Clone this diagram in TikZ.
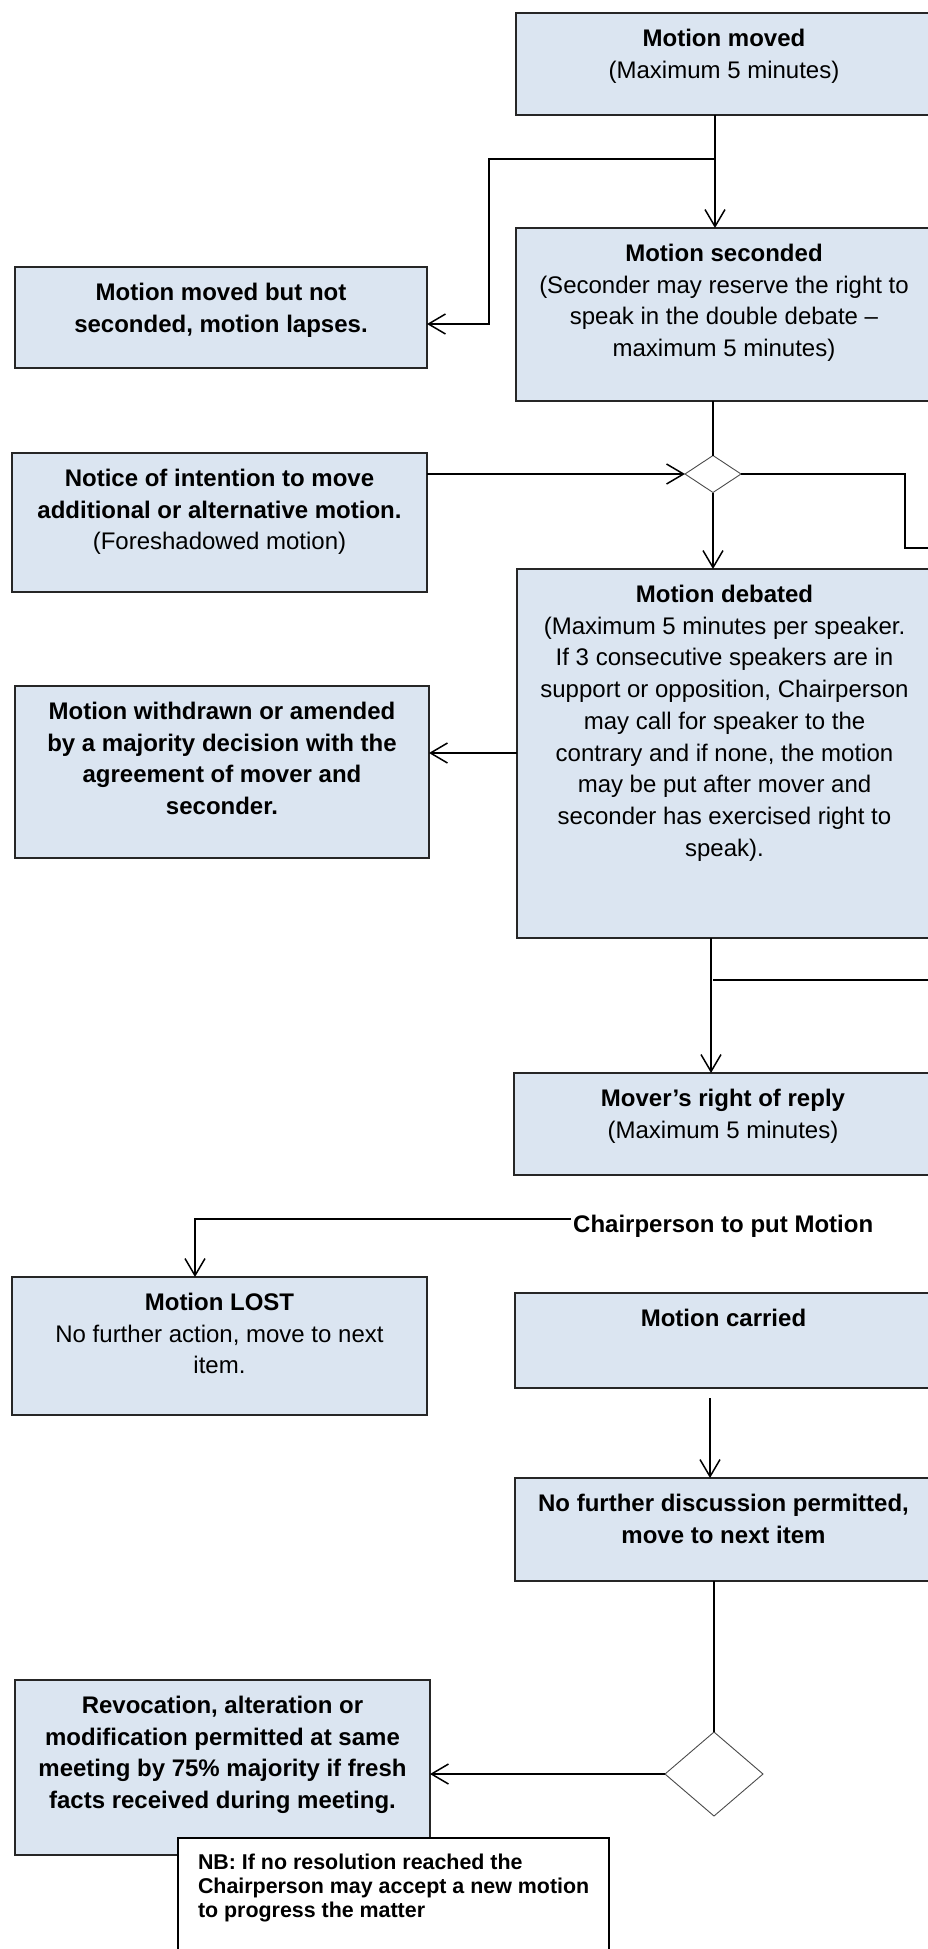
\documentclass[tikz,border=0pt]{standalone}
\usepackage{fontspec}
\setmainfont{Liberation Sans}
\usetikzlibrary{arrows.meta,shapes.geometric}
\definecolor{boxfill}{HTML}{DBE5F1}
\definecolor{boxline}{HTML}{262626}
\newcommand\bt[3]{\parbox[c][#2pt][t]{#1pt}{\centering\fontsize{24}{31.7}\selectfont\rule{0pt}{33.5pt}#3}}
\begin{document}
\begin{tikzpicture}[x=1pt,y=-1pt,
 box/.style={draw=boxline, line width=2pt, fill=boxfill, inner sep=0pt, outer sep=0pt, anchor=north west},
 nbbox/.style={draw=black, line width=2pt, fill=white, inner sep=0pt, outer sep=0pt, anchor=north west},
 conn/.style={line width=1.5pt, draw=black},
 arr/.style={conn, -{Straight Barb[length=17pt,width=20pt,line width=1.5pt]}},
 dec/.style={diamond, draw=black!70, line width=0.9pt, fill=white, inner sep=0pt, outer sep=0pt},
 lbl/.style={font=\bfseries\fontsize{24}{28}\selectfont, inner sep=2pt, anchor=west}
]
\useasboundingbox (0,0) rectangle (928,1949);
\clip (0,0) rectangle (928,1949);

% boxes
\node[box] (moved) at (516,13) {\bt{416}{102}{\textbf{Motion moved}\\(Maximum 5 minutes)}};
\node[box] (seconded) at (516,228) {\bt{416}{173}{\textbf{Motion seconded}\\(Seconder may reserve the right to\\speak in the double debate –\\maximum 5 minutes)}};
\node[box] (lapses) at (15,267) {\bt{412}{101}{\textbf{Motion moved but not}\\\textbf{seconded, motion lapses.}}};
\node[box] (notice) at (12,453) {\bt{415}{139}{\textbf{Notice of intention to move}\\\textbf{additional or alternative motion.}\\(Foreshadowed motion)}};
\node[box] (debated) at (517,569) {\bt{415}{369}{\textbf{Motion debated}\\(Maximum 5 minutes per speaker.\\If 3 consecutive speakers are in\\support or opposition, Chairperson\\may call for speaker to the\\contrary and if none, the motion\\may be put after mover and\\seconder has exercised right to\\speak).}};
\node[box] (withdrawn) at (15,686) {\bt{414}{172}{\textbf{Motion withdrawn or amended}\\\textbf{by a majority decision with the}\\\textbf{agreement of mover and}\\\textbf{seconder.}}};
\node[box] (reply) at (514,1073) {\bt{418}{102}{\textbf{Mover’s right of reply}\\(Maximum 5 minutes)}};
\node[box] (lost) at (12,1277) {\bt{415}{138}{\textbf{Motion LOST}\\No further action, move to next\\item.}};
\node[box] (carried) at (515,1293) {\bt{417}{95}{\textbf{Motion carried}}};
\node[box] (nofurther) at (515,1478) {\bt{417}{103}{\textbf{No further discussion permitted,}\\\textbf{move to next item}}};
\node[box] (revoc) at (15,1680) {\bt{415}{175}{\textbf{Revocation, alteration or}\\\textbf{modification permitted at same}\\\textbf{meeting by 75\% majority if fresh}\\\textbf{facts received during meeting.}}};
\node[nbbox] (nb) at (178,1838) {\parbox[c][125pt][t]{431pt}{\raggedright\leftskip=20pt\fontsize{21.4}{24}\selectfont\bfseries\rule{0pt}{31pt}NB: If no resolution reached the\\Chairperson may accept a new motion\\to progress the matter}};

\node[lbl] (chair) at (571,1226) {Chairperson to put Motion};

% decisions
\node[dec, minimum width=56pt, minimum height=37pt] (d1) at (713,474) {};
\node[dec, minimum width=98pt, minimum height=84pt] (d2) at (714,1774) {};

% helper coordinates
\coordinate (cA) at (715,0);
\coordinate (br1) at (715,159);
\coordinate (br2) at (489,324);
\coordinate (r1) at (905,548);
\coordinate (off1) at (940,548);
\coordinate (wa) at (517,753);
\coordinate (cB) at (711,0);
\coordinate (b2) at (713,980);
\coordinate (off2) at (940,980);
\coordinate (cC) at (195,0);
\coordinate (c11) at (710,1398);

% connectors
\draw[arr] (moved.south -| cA) -- (seconded.north -| cA);
\draw[arr] (br1) -- (br1 -| br2) -- (br2) -- (lapses.east |- br2);
\draw[conn] (seconded.south -| d1) -- (d1.north);
\draw[arr] (notice.east |- d1) -- (d1.west);
\draw[arr] (d1.south) -- (debated.north -| d1);
\draw[conn] (d1.east) -| (r1) -- (off1);
\draw[arr] (debated.west |- wa) -- (withdrawn.east |- wa);
\draw[arr] (debated.south -| cB) -- (reply.north -| cB);
\draw[conn] (b2) -- (off2);
\draw[arr] ([yshift=7pt]chair.west) -| (lost.north -| cC);
\draw[arr] (c11) -- (nofurther.north -| c11);
\draw[conn] (nofurther.south -| d2) -- (d2.north);
\draw[arr] (d2.west) -- (revoc.east |- d2);
\end{tikzpicture}
\end{document}
